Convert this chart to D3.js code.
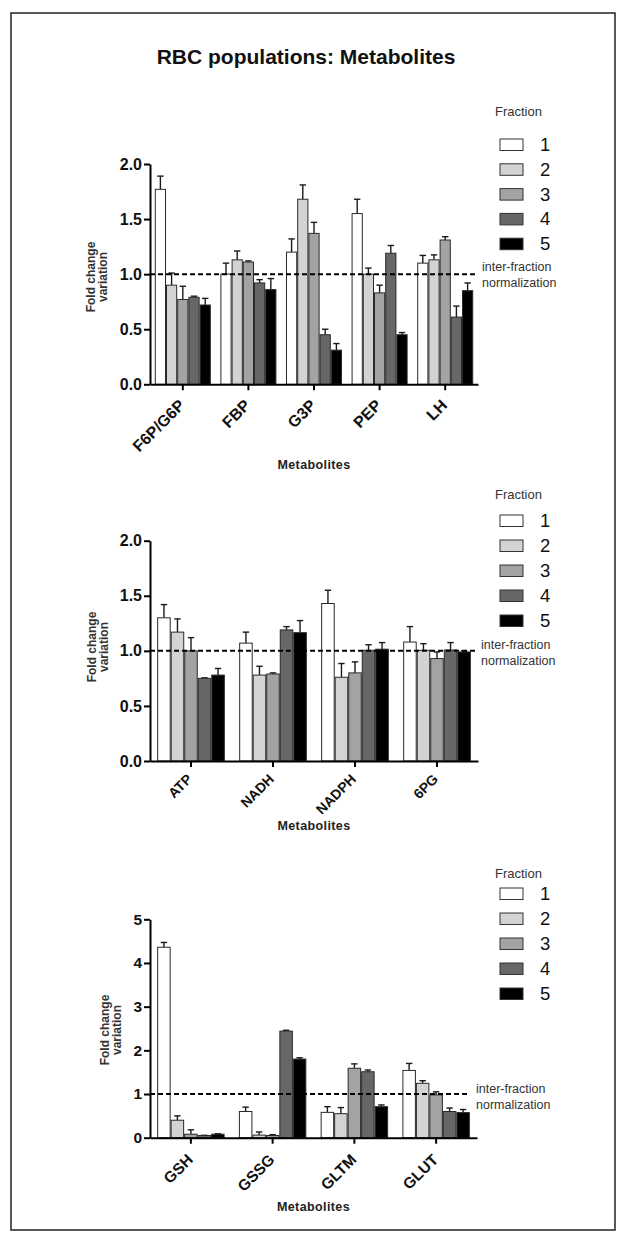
<!DOCTYPE html>
<html><head><meta charset="utf-8">
<script src="https://cdn.jsdelivr.net/npm/d3@7"></script>
<style>body{margin:0;background:#fff}svg{display:block}</style>
</head><body>
<script>
// ---------- data ----------
const fractions = ["1", "2", "3", "4", "5"];
const fractionColors = ["#ffffff", "#d3d3d3", "#a3a3a3", "#676767", "#000000"];

const glycoCategories = ["F6P/G6P", "FBP", "G3P", "PEP", "LH"];
const glycoMeans = [
  [1.77, 0.90, 0.77, 0.79, 0.72],
  [1.00, 1.13, 1.11, 0.92, 0.86],
  [1.20, 1.68, 1.37, 0.45, 0.31],
  [1.55, 1.00, 0.83, 1.19, 0.45],
  [1.10, 1.13, 1.31, 0.61, 0.85]
];
const glycoErrors = [
  [0.12, 0.11, 0.12, 0.01, 0.06],
  [0.10, 0.08, 0.01, 0.03, 0.10],
  [0.12, 0.13, 0.10, 0.05, 0.06],
  [0.13, 0.055, 0.07, 0.07, 0.02],
  [0.07, 0.045, 0.03, 0.10, 0.07]
];
const glycoTicks = [0, 0.5, 1.0, 1.5, 2.0];

const energyCategories = ["ATP", "NADH", "NADPH", "6PG"];
const energyMeans = [
  [1.30, 1.17, 1.00, 0.75, 0.78],
  [1.07, 0.78, 0.79, 1.19, 1.165],
  [1.43, 0.76, 0.80, 1.005, 1.015],
  [1.08, 1.005, 0.93, 1.008, 0.99]
];
const energyErrors = [
  [0.12, 0.12, 0.12, 0.005, 0.06],
  [0.10, 0.08, 0.01, 0.03, 0.11],
  [0.12, 0.125, 0.10, 0.05, 0.06],
  [0.14, 0.06, 0.06, 0.067, 0.01]
];
const energyTicks = [0, 0.5, 1.0, 1.5, 2.0];

const redoxCategories = ["GSH", "GSSG", "GLTM", "GLUT"];
const redoxMeans = [
  [4.36, 0.40, 0.08, 0.05, 0.08],
  [0.60, 0.06, 0.05, 2.44, 1.80],
  [0.58, 0.55, 1.59, 1.51, 0.71],
  [1.54, 1.245, 0.98, 0.60, 0.575]
];
const redoxErrors = [
  [0.11, 0.10, 0.10, 0.005, 0.01],
  [0.10, 0.07, 0.02, 0.02, 0.03],
  [0.13, 0.14, 0.10, 0.04, 0.04],
  [0.16, 0.06, 0.07, 0.08, 0.07]
];
const redoxTicks = [0, 1, 2, 3, 4, 5];

const titleText = "RBC populations: Metabolites";
const xTitle = "Metabolites";
const yTitleLines = ["Fold change", "variation"];
const legendTitle = "Fraction";
const normLines = ["inter-fraction", "normalization"];
const normValue = 1;

// ---------- layout ----------
const W = 630, H = 1245;
const FONT = "'Liberation Sans', Arial, Helvetica, sans-serif";

const svg = d3.select("body").append("svg")
  .attr("width", W).attr("height", H)
  .style("font-family", FONT);

svg.append("rect").attr("width", W).attr("height", H).attr("fill", "#fff");
svg.append("rect").attr("x", 11).attr("y", 13).attr("width", 604).attr("height", 1217)
  .attr("fill", "none").attr("stroke", "#222").attr("stroke-width", 1.5);

svg.append("text").attr("x", 306).attr("y", 64).attr("text-anchor", "middle")
  .attr("font-size", 21).attr("font-weight", "bold").attr("fill", "#111")
  .text(titleText);

const panels = [
  { cats: glycoCategories, means: glycoMeans, errs: glycoErrors, ticks: glycoTicks,
    fmt: d3.format(".1f"), ymax: 2, x0: 150, x1: 478, yTop: 164, yBot: 384.3,
    pad: 0.146, dashEnd: 478, yl: [95, 107], ylY: 277, xtY: 469,
    tickFs: 16, catFs: 16, catOff: [3, 22],
    lg: { fracY: 116, boxY: 139, step: 24.8, normX: 482, normY: 271 } },
  { cats: energyCategories, means: energyMeans, errs: energyErrors, ticks: energyTicks,
    fmt: d3.format(".1f"), ymax: 2, x0: 150, x1: 478, yTop: 540.7, yBot: 761,
    pad: 0.175, dashEnd: 477, yl: [96, 108], ylY: 647, xtY: 830,
    tickFs: 16, catFs: 14, catOff: [2, 19],
    lg: { fracY: 499, boxY: 515, step: 25, normX: 481, normY: 649 } },
  { cats: redoxCategories, means: redoxMeans, errs: redoxErrors, ticks: redoxTicks,
    fmt: d3.format("d"), ymax: 5, x0: 150, x1: 477, yTop: 919.3, yBot: 1137.7,
    pad: 0.175, dashEnd: 470, yl: [109, 121], ylY: 1030, xtY: 1211,
    tickFs: 15.5, catFs: 15.5, catOff: [3, 23],
    lg: { fracY: 878, boxY: 888, step: 25, normX: 476, normY: 1093 } }
];

panels.forEach(p => {
  const g = svg.append("g");
  const x = d3.scaleBand().domain(p.cats).range([p.x0, p.x1])
    .paddingInner(p.pad).paddingOuter(p.pad / 2);
  const xf = d3.scaleBand().domain(fractions).range([0, x.bandwidth()]).padding(0);
  const y = d3.scaleLinear().domain([0, p.ymax]).range([p.yBot, p.yTop]);

  const rows = [];
  p.cats.forEach((c, i) => fractions.forEach((f, j) => {
    rows.push({ c, f, j, v: p.means[i][j], e: p.errs[i][j] });
  }));

  const eb = g.append("g").attr("stroke", "#1a1a1a").attr("stroke-width", 1.4);
  rows.forEach(d => {
    const cx = x(d.c) + xf(d.f) + xf.bandwidth() / 2;
    eb.append("line").attr("x1", cx).attr("x2", cx)
      .attr("y1", y(d.v)).attr("y2", y(d.v + d.e));
    eb.append("line").attr("x1", cx - 3.2).attr("x2", cx + 3.2)
      .attr("y1", y(d.v + d.e)).attr("y2", y(d.v + d.e));
  });

  g.append("g").selectAll("rect").data(rows).join("rect")
    .attr("x", d => x(d.c) + xf(d.f) + 0.5)
    .attr("y", d => y(d.v))
    .attr("width", xf.bandwidth() - 1)
    .attr("height", d => y(0) - y(d.v))
    .attr("fill", d => fractionColors[d.j])
    .attr("stroke", "#2a2a2a").attr("stroke-width", 1);

  g.append("line").attr("x1", p.x0).attr("x2", p.dashEnd)
    .attr("y1", y(normValue)).attr("y2", y(normValue))
    .attr("stroke", "#000").attr("stroke-width", 2).attr("stroke-dasharray", "5,3");

  const ya = g.append("g").attr("transform", `translate(${p.x0},0)`)
    .call(d3.axisLeft(y).tickValues(p.ticks).tickFormat(p.fmt).tickSize(6).tickSizeOuter(0).tickPadding(2));
  ya.select(".domain").attr("stroke", "#000").attr("stroke-width", 2);
  ya.selectAll(".tick line").attr("stroke", "#000").attr("stroke-width", 2);
  ya.selectAll(".tick text").attr("font-family", FONT).attr("font-size", p.tickFs)
    .attr("font-weight", "bold").attr("fill", "#111");

  const xa = g.append("g").attr("transform", `translate(0,${p.yBot})`)
    .call(d3.axisBottom(x).tickSize(6).tickSizeOuter(0));
  xa.select(".domain").attr("stroke", "#000").attr("stroke-width", 2);
  xa.selectAll(".tick line").attr("stroke", "#000").attr("stroke-width", 2);
  xa.selectAll(".tick text")
    .attr("font-family", FONT).attr("font-size", p.catFs).attr("font-weight", "bold").attr("fill", "#111")
    .attr("text-anchor", "end").attr("dy", null).attr("y", null)
    .attr("transform", `translate(${p.catOff[0]},${p.catOff[1]}) rotate(-45)`);

  g.append("text").attr("x", (p.x0 + p.x1) / 2).attr("y", p.xtY).attr("text-anchor", "middle")
    .attr("font-size", 12.5).attr("font-weight", "bold").attr("fill", "#222")
    .attr("letter-spacing", 0.4).text(xTitle);
  yTitleLines.forEach((t, k) => {
    g.append("text").attr("transform", `translate(${p.yl[k]},${p.ylY}) rotate(-90)`)
      .attr("text-anchor", "middle").attr("font-size", 12).attr("font-weight", "bold").attr("fill", "#333")
      .text(t);
  });

  const L = p.lg;
  g.append("text").attr("x", 495).attr("y", L.fracY).attr("font-size", 13).attr("fill", "#333").text(legendTitle);
  fractions.forEach((f, j) => {
    const by = L.boxY + j * L.step;
    g.append("rect").attr("x", 500).attr("y", by).attr("width", 23).attr("height", 11.5)
      .attr("fill", fractionColors[j]).attr("stroke", "#333").attr("stroke-width", 1);
    g.append("text").attr("x", 540).attr("y", by + 12).attr("font-size", 18.5).attr("fill", "#111").text(f);
  });
  normLines.forEach((t, k) => {
    g.append("text").attr("x", L.normX).attr("y", L.normY + k * 16).attr("font-size", 12.5)
      .attr("fill", "#333").text(t);
  });
});
</script>
</body></html>
